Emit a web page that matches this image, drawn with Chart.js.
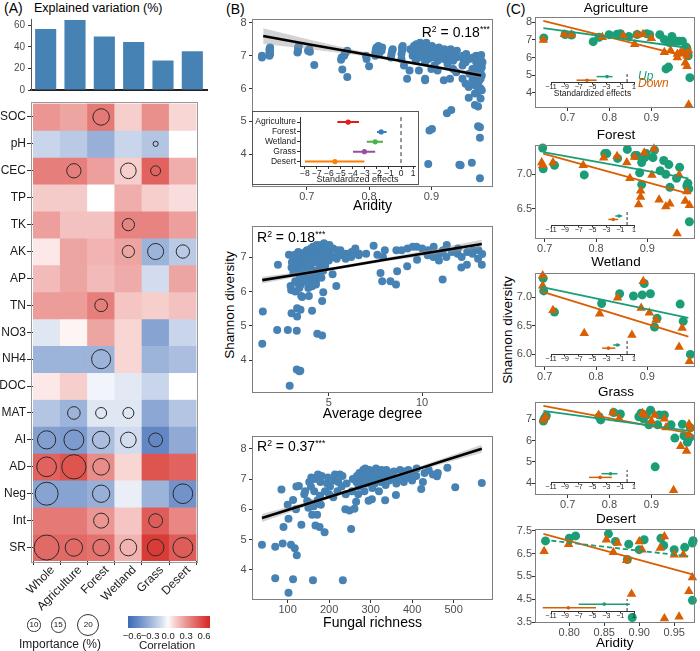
<!DOCTYPE html>
<html><head><meta charset="utf-8">
<script src="https://cdn.jsdelivr.net/npm/chart.js@4.4.1/dist/chart.umd.min.js"></script>
<style>
html,body{margin:0;padding:0;background:#fff;}
body{width:700px;height:651px;position:relative;overflow:hidden;font-family:'Liberation Sans',Arial,Helvetica,sans-serif;}
canvas{position:absolute;}
.t{position:absolute;white-space:nowrap;line-height:1.2;}
.sup{font-size:0.62em;position:relative;top:-0.55em;}
</style></head><body>
<script>
// ================= DATA =================
const sites = ['Whole','Agriculture','Forest','Wetland','Grass','Desert'];
const explained = [56.6, 65, 49.7, 44.6, 27.4, 36];
const explainedTicks = [0, 20, 40, 60];
const factors = ['SOC','pH','CEC','TP','TK','AK','AP','TN','NO3','NH4','DOC','MAT','AI','AD','Neg','Int','SR'];
const correlation = [
  [0.30, 0.25, 0.40, 0.12, 0.32, 0.10],
  [-0.15, -0.20, -0.32, -0.15, -0.22, 0.0],
  [0.38, 0.38, 0.27, 0.12, 0.48, 0.22],
  [0.13, 0.13, 0.0, 0.22, 0.12, 0.08],
  [0.27, 0.16, 0.16, 0.36, 0.36, 0.27],
  [0.05, 0.25, 0.20, 0.25, -0.30, -0.20],
  [0.18, 0.25, 0.18, 0.23, -0.12, 0.25],
  [0.28, 0.28, 0.38, 0.15, 0.12, 0.16],
  [-0.08, 0.02, 0.25, 0.10, -0.38, -0.15],
  [-0.30, -0.30, -0.30, 0.10, -0.30, -0.25],
  [0.05, 0.12, -0.03, -0.07, -0.15, 0.0],
  [-0.22, -0.30, -0.08, -0.08, -0.36, -0.22],
  [-0.40, -0.42, -0.25, -0.12, -0.52, -0.35],
  [0.48, 0.53, 0.33, 0.10, 0.53, 0.48],
  [-0.38, -0.38, -0.32, -0.05, -0.30, -0.46],
  [0.40, 0.40, 0.30, 0.15, 0.50, 0.35],
  [0.45, 0.45, 0.42, 0.20, 0.62, 0.50]
];
const importance = [
  [0, 0, 14, 0, 0, 0],
  [0, 0, 0, 0, 1, 0],
  [0, 11.5, 0, 13, 6.5, 0],
  [0, 0, 0, 0, 0, 0],
  [0, 0, 0, 9.2, 0, 0],
  [0, 0, 0, 9.2, 13.5, 10.4],
  [0, 0, 0, 0, 0, 0],
  [0, 0, 9.6, 0, 0, 0],
  [0, 0, 0, 0, 0, 0],
  [0, 0, 17, 0, 0, 0],
  [0, 0, 0, 0, 0, 0],
  [0, 9.6, 7.7, 7.7, 0, 0],
  [16, 18, 15, 13, 11, 0],
  [17.7, 23, 14.2, 0, 0, 0],
  [21.5, 0, 15, 0, 0, 17.7],
  [0, 0, 12.3, 0, 11, 0],
  [23.8, 15, 14.2, 14.2, 14.2, 18]
];
const importanceLegend = [10, 15, 20];
const corrTicks = [-0.6, -0.3, 0, 0.3, 0.6];

// Panel B
const aridityShannon = [
 [0.628,6.95],[0.628,7.0],
 [0.640,7.0],[0.640,7.1],[0.640,7.2],[0.641,7.05],[0.641,7.15],[0.641,7.25],
 [0.685,7.1],[0.686,7.15],[0.686,7.25],[0.687,7.3],
 [0.702,7.15],[0.704,7.2],[0.705,7.12],[0.712,6.72],
 [0.755,6.88],[0.756,6.95],[0.760,7.0],[0.761,7.05],[0.762,7.1],[0.765,7.15],[0.757,6.58],[0.765,6.35],
 [0.795,7.0],[0.796,6.9],[0.800,6.68],
 [0.810,7.0],[0.810,7.1],[0.811,7.2],[0.812,7.25],[0.815,7.3],[0.816,7.05],[0.820,7.15],[0.821,7.25],
 [0.835,6.95],[0.836,7.05],[0.837,7.15],[0.838,7.2],
 [0.852,6.9],[0.852,7.05],[0.853,7.15],[0.853,7.25],[0.854,7.3],[0.856,6.7],[0.861,6.3],[0.865,6.55],[0.866,7.2],
 [0.870,7.0],[0.870,7.1],[0.871,7.2],[0.872,7.3],[0.875,6.85],[0.875,7.05],[0.876,7.25],[0.876,7.35],
 [0.880,6.55],[0.880,6.95],[0.881,7.15],[0.881,7.3],[0.882,7.4],[0.885,7.0],[0.885,7.2],[0.886,7.35],
 [0.890,6.25],[0.890,6.3],[0.890,6.8],[0.891,7.1],[0.891,7.3],[0.892,7.4],[0.895,6.9],[0.895,7.05],[0.896,7.25],
 [0.900,6.6],[0.900,6.95],[0.901,7.15],[0.901,7.3],[0.905,6.7],[0.905,7.0],[0.906,7.2],
 [0.895,3.7],[0.897,4.72],[0.901,4.77],
 [0.910,6.55],[0.910,6.85],[0.911,7.05],[0.912,7.25],[0.920,6.25],[0.920,6.9],[0.921,7.1],[0.921,7.2],
 [0.925,5.25],[0.926,6.75],[0.927,7.0],[0.930,6.3],[0.932,5.35],[0.930,6.95],[0.931,7.15],[0.931,7.2],
 [0.935,6.6],[0.935,6.85],[0.936,7.05],[0.940,6.5],[0.940,6.95],[0.941,7.15],
 [0.945,3.68],[0.947,3.66],[0.950,6.3],[0.950,6.7],[0.951,6.9],[0.951,7.0],[0.955,6.15],[0.955,6.8],[0.956,7.05],
 [0.960,5.72],[0.960,6.05],[0.961,6.45],[0.961,6.9],[0.965,3.74],[0.966,6.25],[0.966,6.6],[0.967,6.95],
 [0.970,5.5],[0.970,5.85],[0.970,6.1],[0.971,6.4],[0.971,6.6],[0.972,6.8],[0.972,7.0],
 [0.975,4.85],[0.975,5.45],[0.975,5.9],[0.976,6.2],[0.976,6.5],[0.976,6.75],[0.977,6.9],
 [0.978,3.27],[0.978,4.5],[0.978,4.82],[0.979,5.7],[0.979,6.0],[0.979,6.3],[0.979,6.55],[0.980,6.85],[0.980,7.02],
 [0.981,5.95],[0.981,6.4],[0.981,6.65],[0.982,6.8]
];
const aridityFitX = [0.63, 0.70, 0.78, 0.86, 0.92, 0.98];
const aridityFitY = [7.6, 7.36, 7.09, 6.81, 6.61, 6.4];
const aridityBandLo = [7.36, 7.21, 7.02, 6.77, 6.56, 6.32];
const aridityBandHi = [7.84, 7.51, 7.16, 6.85, 6.66, 6.48];

const degreeShannon = [
 [1.43,4.48],[1.46,5.42],[2.23,4.88],[2.27,6.78],[2.8,4.88],[2.86,7.07],[2.9,3.26],[2.95,6.16],[2.98,6.04],[3.0,5.37],[3.0,6.7],[3.02,6.85],
 [3.1,6.55],[3.1,6.95],[3.12,7.05],[3.2,6.0],[3.2,6.3],[3.21,6.7],[3.22,6.9],[3.2,7.07],[3.28,3.73],[3.28,4.86],[3.3,5.27],[3.3,5.51],[3.32,6.25],[3.33,6.6],[3.34,6.8],[3.35,7.0],[3.36,7.15],
 [3.42,3.68],[3.47,3.7],[3.48,5.47],[3.42,6.1],[3.44,6.4],[3.45,6.75],[3.46,6.9],[3.52,5.87],[3.5,6.2],[3.53,6.55],[3.54,6.85],[3.55,7.1],[3.57,5.84],[3.58,6.65],[3.6,7.0],
 [3.7,6.3],[3.7,6.5],[3.72,6.8],[3.73,7.0],[3.74,7.15],[3.8,6.4],[3.82,6.9],[3.83,7.2],[3.93,5.87],[3.9,6.1],[3.92,6.6],[3.94,7.05],[4.0,6.25],[4.02,6.75],[4.03,7.1],[4.04,7.25],
 [4.1,5.44],[4.1,6.15],[4.12,6.45],[4.13,6.95],[4.14,7.2],[4.15,7.3],[4.2,6.6],[4.22,6.85],[4.23,7.1],[4.24,7.3],[4.3,6.3],[4.31,6.2],[4.32,7.0],[4.33,7.25],[4.34,7.35],[4.38,4.77],[4.4,6.5],[4.42,6.9],[4.43,7.15],[4.44,7.3],
 [4.5,6.7],[4.52,7.0],[4.53,7.2],[4.54,7.35],[4.64,4.72],[4.64,5.72],[4.6,6.4],[4.62,6.95],[4.63,7.1],[4.6,7.3],[4.7,5.98],[4.7,6.6],[4.72,6.85],[4.73,7.2],[4.74,7.4],[4.8,6.75],[4.82,7.05],[4.83,7.3],
 [5.0,6.9],[5.02,7.15],[5.03,7.35],[5.2,6.5],[5.22,7.0],[5.23,7.25],[5.4,6.16],[5.42,6.95],[5.43,7.2],[5.6,7.05],[5.62,7.2],[5.9,6.95],[5.92,7.1],[6.2,7.0],[6.22,7.15],[6.4,7.2],[6.42,7.25],[6.6,7.05],[6.62,7.1],
 [7.0,7.1],[7.4,7.33],[7.6,7.07],[7.77,6.54],[7.86,6.3],[7.9,7.0],[8.0,7.2],[8.3,6.3],[8.6,6.2],[8.66,6.59],[8.62,7.2],[8.9,7.2],[9.2,6.73],[9.22,7.25],[9.5,7.3],[9.73,6.92],[9.7,7.3],[10.0,7.25],
 [10.3,7.05],[10.32,7.2],[10.6,7.0],[10.62,7.3],[10.9,6.9],[10.92,7.1],[11.1,6.35],[11.12,7.2],[11.3,7.0],[11.32,7.35],[11.6,7.15],[11.9,7.1],[11.92,7.25],[12.1,6.7],[12.12,7.0],[12.4,6.78],[12.42,7.15],
 [12.7,7.1],[12.72,7.2],[13.0,6.95],[13.02,7.2],[13.2,6.78],[13.22,7.09]
];
const degreeFitX = [1.43, 3.5, 5.5, 8, 10.5, 13.2];
const degreeFitY = [6.33, 6.51, 6.69, 6.92, 7.14, 7.38];
const degreeBandLo = [6.23, 6.45, 6.65, 6.87, 7.06, 7.26];
const degreeBandHi = [6.43, 6.57, 6.73, 6.97, 7.22, 7.5];

const richnessShannon = [
 [38,4.83],[70,4.76],[70,3.72],[88,4.87],[85,6.65],[90,5.41],[100,6.15],[102,5.69],[102,3.24],[108,4.83],[113,3.69],[113,6.31],[117,4.71],[121,6.75],[120,6.0],[122,4.48],[127,6.77],[133,5.49],
 [140,6.5],[142,6.6],[147,6.27],[150,6.05],[152,6.9],[155,6.2],[156,6.75],[157,7.05],[159,5.82],[161,3.65],[163,6.1],[164,6.6],[165,7.0],[167,5.46],[171,5.82],[172,6.3],[173,7.15],[177,5.41],[178,6.45],[179,6.9],[180,6.15],[182,7.1],
 [189,5.24],[190,6.6],[195,6.85],[197,7.05],[200,6.5],[202,6.75],[210,6.4],[212,6.95],[214,7.15],[220,6.6],[222,6.9],[230,6.75],[232,7.1],[226,7.15],[233,3.65],[239,6.0],[240,6.5],[242,6.85],[249,5.96],[253,5.35],[255,6.6],[257,7.0],
 [261,6.02],[265,6.25],[266,6.9],[267,7.1],[270,6.5],[271,6.75],[272,7.0],[273,7.2],[280,6.9],[281,7.05],[282,7.3],[285,6.6],[286,7.2],[287,7.35],[290,6.85],[291,7.1],[292,7.25],[295,6.28],[296,7.0],[297,7.3],
 [303,6.33],[304,6.7],[305,7.15],[310,6.85],[311,7.05],[312,7.25],[313,7.35],[320,6.6],[321,7.0],[322,7.2],[325,6.9],[326,7.3],[335,6.3],[336,6.8],[337,7.1],[338,7.3],[345,6.95],[346,7.2],[355,7.05],[356,7.25],
 [361,6.47],[362,6.85],[370,7.0],[371,7.3],[380,6.9],[381,7.1],[382,7.25],[390,7.05],[391,7.3],[400,6.95],[401,7.15],[410,7.1],[411,7.35],[422,6.67],[426,6.9],[430,7.2],[440,7.3],[450,7.15],[460,7.09],[462,7.2],
 [485,7.37],[504,6.73],[568,6.87]
];
const richnessFitX = [38, 150, 280, 400, 480, 568];
const richnessFitY = [5.71, 6.19, 6.75, 7.27, 7.62, 8.0];
const richnessBandLo = [5.58, 6.12, 6.71, 7.21, 7.53, 7.87];
const richnessBandHi = [5.84, 6.26, 6.79, 7.33, 7.71, 8.13];

const effectGroups = ['Agriculture','Forest','Wetland','Grass','Desert'];
const aridityEffect = [-4.4, -1.65, -2.15, -3.05, -5.5];
const aridityEffectLo = [-5.3, -2.0, -2.85, -4.0, -8.0];
const aridityEffectHi = [-3.5, -1.2, -1.5, -2.15, -3.05];

// Panel C
const agriUp = [[0.643,7.11],[0.694,7.31],[0.709,7.28],[0.761,6.9],[0.775,7.15],[0.799,7.3],[0.818,7.33],[0.826,7.35],[0.846,7.2],[0.866,7.31],[0.889,7.35],[0.896,7.3],[0.92,7.3],[0.931,7.02],[0.943,6.85],[0.949,7.2],[0.959,6.93],[0.966,6.93],[0.974,6.93],[0.983,6.6],[0.985,6.5],[0.988,6.1],[0.935,5.35],[0.941,5.45],[0.992,4.85]];
const agriDown = [[0.642,7.0],[0.692,7.33],[0.709,7.3],[0.783,7.15],[0.833,7.24],[0.86,6.75],[0.866,7.3],[0.88,7.33],[0.9,7.1],[0.931,6.3],[0.946,6.4],[0.962,6.2],[0.97,6.3],[0.977,6.3],[0.962,6.0],[0.985,6.1],[0.985,5.5],[0.981,5.7],[0.989,3.3],[0.989,6.4]];
const agriUpFit = [[0.642,7.67],[0.99,6.54]];
const agriDownFit = [[0.642,8.09],[0.99,6.02]];
const forestUp = [[0.696,7.38],[0.697,7.08],[0.719,7.13],[0.777,6.99],[0.817,7.3],[0.821,7.3],[0.842,7.23],[0.861,7.36],[0.876,7.27],[0.88,7.27],[0.889,7.17],[0.895,7.24],[0.898,7.3],[0.911,7.24],[0.914,7.35],[0.885,7.02],[0.889,6.85],[0.932,7.2],[0.942,7.14],[0.925,7.05],[0.936,7.0],[0.944,6.81],[0.957,6.94],[0.963,7.1],[0.977,6.83],[0.979,6.87],[0.981,6.79],[0.982,6.31]];
const forestDown = [[0.694,7.17],[0.696,7.13],[0.716,7.17],[0.775,7.13],[0.815,7.24],[0.841,7.26],[0.86,7.17],[0.875,7.25],[0.894,7.31],[0.913,7.37],[0.866,6.94],[0.887,6.76],[0.887,6.67],[0.883,6.56],[0.909,6.99],[0.923,6.63],[0.936,6.53],[0.944,6.57],[0.962,6.99],[0.974,6.61],[0.982,6.55],[0.977,6.75],[0.958,6.14]];
const forestUpFit = [[0.697,7.32],[0.98,6.94]];
const forestDownFit = [[0.697,7.3],[0.98,6.72]];
const wetlandUp = [[0.697,7.33],[0.698,7.11],[0.719,6.74],[0.811,6.89],[0.846,7.06],[0.873,7.02],[0.89,7.04],[0.894,7.24],[0.906,7.06],[0.919,6.63],[0.914,6.48],[0.964,6.88],[0.97,6.58],[0.984,6.0]];
const wetlandDown = [[0.696,7.38],[0.696,7.2],[0.716,6.77],[0.777,6.37],[0.807,6.71],[0.842,6.99],[0.87,6.34],[0.888,6.81],[0.892,7.28],[0.904,6.73],[0.917,6.6],[0.962,6.13],[0.968,6.46],[0.982,5.88]];
const wetlandUpFit = [[0.693,7.18],[0.98,6.64]];
const wetlandDownFit = [[0.693,7.1],[0.98,6.31]];
const grassUp = [[0.649,7.17],[0.645,7.05],[0.642,6.92],[0.775,7.12],[0.779,6.97],[0.81,7.32],[0.826,7.25],[0.87,7.12],[0.875,7.28],[0.881,7.02],[0.888,7.2],[0.898,7.43],[0.894,6.74],[0.919,7.2],[0.931,7.2],[0.915,6.74],[0.947,6.74],[0.956,6.12],[0.974,6.77],[0.978,6.23],[0.986,5.92],[0.992,6.15],[0.993,6.6],[0.988,6.05],[0.909,4.77]];
const grassDown = [[0.642,6.97],[0.647,7.12],[0.774,7.2],[0.808,7.32],[0.823,7.02],[0.879,7.28],[0.884,7.2],[0.9,6.92],[0.908,7.2],[0.931,7.02],[0.935,6.62],[0.97,5.74],[0.984,5.51],[0.99,6.77],[0.993,6.58],[0.99,6.28],[0.953,3.67]];
const grassUpFit = [[0.642,7.4],[0.99,6.46]];
const grassDownFit = [[0.642,7.63],[0.99,6.35]];
const desertUp = [[0.766,7.05],[0.8,7.17],[0.809,7.27],[0.856,7.36],[0.866,7.03],[0.885,6.91],[0.883,6.24],[0.9,6.67],[0.907,7.1],[0.931,7.17],[0.935,6.85],[0.95,6.67],[0.965,6.77],[0.976,6.96],[0.977,7.06],[0.976,4.45],[0.89,3.7]];
const desertDown = [[0.764,6.6],[0.799,6.91],[0.853,7.1],[0.863,6.55],[0.869,6.96],[0.882,6.2],[0.9,7.03],[0.904,6.67],[0.93,6.74],[0.936,7.24],[0.95,6.45],[0.963,6.45],[0.889,4.73],[0.936,3.66],[0.957,3.73],[0.971,4.85],[0.976,5.45]];
const desertUpFit = [[0.763,7.1],[0.97,6.38]];
const desertDownFit = [[0.763,7.36],[0.976,5.59]];

const upEffect = [-2.9, -1.15, -1.4, -2.4, -3.3];
const upLo = [-4.4, -1.7, -2.0, -3.7, -7.0];
const upHi = [-2.1, -0.7, -1.0, -1.4, 0.4];
const downEffect = [-5.8, -2.0, -2.7, -3.9, -8.5];
const downLo = [-7.3, -2.7, -3.6, -5.5, -12.2];
const downHi = [-4.4, -1.3, -1.7, -2.2, -4.5];

const aridityTicksB = [0.7, 0.8, 0.9];
const shannonTicksB = [4, 5, 6, 7, 8];
const degreeTicks = [5, 10];
const shannonTicksDeg = [4, 5, 6, 7];
const richnessTicks = [100, 200, 300, 400, 500];
const effectTicksB = [-8, -7, -6, -5, -4, -3, -2, -1, 0, 1];
const effectTicksC = [-11, -9, -7, -5, -3, -1, 1];
const aridityTicksC = [0.7, 0.8, 0.9];
const aridityTicksDesert = [0.80, 0.85, 0.90, 0.95];
const agriYTicks = [4, 5, 6, 7, 8];
const forestYTicks = [6.5, 7.0];
const wetlandYTicks = [6.0, 6.5, 7.0];
const grassYTicks = [4, 5, 6, 7];
const desertYTicks = [3.5, 4.5, 5.5, 6.5, 7.5];

// ================= STYLE / HELPERS =================
const GREEN = '#1B9E77', ORANGE = '#D95F02', STEEL = '#4682B4';
const groupColors = ['#E41A1C', '#377EB8', '#4DAF4A', '#984EA3', '#FF7F00'];
const FONT = "'Liberation Sans', Arial, Helvetica, sans-serif";
Chart.defaults.animation = false;
Chart.defaults.responsive = false;
Chart.defaults.maintainAspectRatio = false;
Chart.defaults.devicePixelRatio = 1;
Chart.defaults.font.family = FONT;
Chart.defaults.font.size = 11;
Chart.defaults.color = '#4d4d4d';
Chart.defaults.events = [];
Chart.defaults.plugins.legend.display = false;
Chart.defaults.plugins.tooltip.enabled = false;

function corrColor(v) {
  const lo = [59, 104, 181], hi = [214, 44, 38];
  const t = Math.max(-1, Math.min(1, v / 0.68));
  const end = t < 0 ? lo : hi;
  const a = Math.pow(Math.abs(t), 0.85);
  return 'rgb(' + end.map(e => Math.round(255 + (e - 255) * a)).join(',') + ')';
}
function impDiameter(imp) { return 0.87 * imp + 4.3; }
const minus = v => (v < 0 ? '\u2212' : '') + Math.abs(v);

Chart.register({
  id: 'frame',
  defaults: { show: false, color: '#7f7f7f', pad: 0 },
  afterDraw(chart, args, o) {
    if (!o.show) return;
    const a = chart.chartArea, ctx = chart.ctx, p = o.pad || 0;
    ctx.save(); ctx.strokeStyle = o.color; ctx.lineWidth = 1;
    const l = Math.round(a.left - p) + 0.5, t = Math.round(a.top - p) + 0.5;
    const r = Math.round(a.right + p) - 0.5, b = Math.round(a.bottom + p) - 0.5;
    ctx.strokeRect(l, t, r - l, b - t);
    ctx.restore();
  }
});
Chart.register({
  id: 'insetBg',
  defaults: { show: false },
  beforeDraw(chart, args, o) {
    if (!o.show) return;
    const ctx = chart.ctx;
    ctx.save(); ctx.fillStyle = '#fff'; ctx.fillRect(0, 0, chart.width, chart.height); ctx.restore();
  },
  afterDraw(chart, args, o) {
    if (!o.show) return;
    const ctx = chart.ctx;
    ctx.save(); ctx.strokeStyle = '#555'; ctx.lineWidth = 1;
    ctx.strokeRect(0.5, 0.5, chart.width - 1, chart.height - 1); ctx.restore();
  }
});
Chart.register({
  id: 'gradientBar',
  defaults: { show: false },
  beforeDatasetsDraw(chart, args, o) {
    if (!o.show) return;
    const { ctx, chartArea: a } = chart; const x = chart.scales.x;
    const x0 = x.getPixelForValue(x.min), x1 = x.getPixelForValue(x.max);
    const g = ctx.createLinearGradient(x0, 0, x1, 0);
    for (let k = 0; k <= 40; k++) { const v = x.min + (x.max - x.min) * k / 40; g.addColorStop(k / 40, corrColor(v)); }
    ctx.save(); ctx.fillStyle = g; ctx.fillRect(a.left, a.top, a.right - a.left, a.bottom - a.top); ctx.restore();
  }
});

function mk(id, x, y, w, h) {
  const c = document.createElement('canvas');
  c.id = id; c.width = w; c.height = h;
  c.style.left = x + 'px'; c.style.top = y + 'px'; c.style.width = w + 'px'; c.style.height = h + 'px';
  document.body.appendChild(c); return c;
}
function txt(html, x, y, o = {}) {
  const d = document.createElement('div'); d.className = 't'; d.innerHTML = html;
  d.style.left = x + 'px'; d.style.top = y + 'px';
  d.style.fontSize = (o.size || 12) + 'px'; d.style.color = o.color || '#000';
  if (o.italic) d.style.fontStyle = 'italic';
  if (o.bold) d.style.fontWeight = 'bold';
  let tr = o.anchor === 'c' ? 'translate(-50%,-50%)' : o.anchor === 'r' ? 'translate(-100%,-50%)' : 'translate(0,-50%)';
  if (o.rot) tr += ' rotate(' + o.rot + 'deg)';
  d.style.transform = tr;
  document.body.appendChild(d); return d;
}
function linAxis(o) {
  const horiz = o.horiz;
  const s = {
    type: 'linear', min: o.min, max: o.max, reverse: !!o.reverse, display: o.display !== false,
    afterBuildTicks: sc => { sc.ticks = o.ticks.map(v => ({ value: v })); },
    ticks: { autoSkip: false, maxRotation: 0, minRotation: 0, font: { size: o.font || 11 }, color: o.color || '#4d4d4d', padding: o.pad ?? 0, callback: o.fmt || (v => String(v)) },
    grid: { display: o.noTicks ? false : true, drawOnChartArea: false, drawTicks: true, tickLength: o.tl ?? 3, color: o.tickColor || '#333' },
    border: { display: !!o.border, color: o.borderColor || '#333', width: 1 },
    title: o.title ? { display: true, text: o.title, font: { size: o.titleSize || 14 }, color: o.titleColor || '#000', padding: { top: 0, bottom: o.titlePad || 0 } } : { display: false }
  };
  if (o.size != null) s.afterFit = horiz ? (sc => { sc.height = o.size; }) : (sc => { sc.width = o.size; });
  return s;
}

// ================= PANEL A =================
txt('(A)', 4, 8, { size: 14 });
txt('Explained variation (%)', 34, 8, { size: 12.5 });

(function barChart() {
  const L = 31, R = 207, T = 14, B = 91, yW = 31, padTop = 4, padRight = 3, xH = 8;
  const c = mk('bars', L - yW, T - padTop, R - L + yW + padRight, B - T + padTop + xH);
  new Chart(c, {
    type: 'bar',
    data: { labels: sites, datasets: [{ data: explained, backgroundColor: STEEL, barPercentage: 0.72, categoryPercentage: 1, borderWidth: 0 }] },
    options: {
      layout: { padding: { top: padTop, right: padRight, left: 0, bottom: 0 } },
      scales: {
        x: { type: 'category', ticks: { display: false }, grid: { display: false }, border: { display: true, color: '#222', width: 2 }, afterFit: s => { s.height = xH; } },
        y: linAxis({ min: 0, max: 66, ticks: explainedTicks, font: 10, pad: 3, tl: 3, border: true, borderColor: '#555', size: yW })
      }
    }
  });
})();

(function heatmap() {
  const L = 33, R = 205, T = 97.5, B = 561, yW = 33, padTop = 7.5, padRight = 5, xH = 59;
  const c = mk('heat', L - yW, T - padTop, R - L + yW + padRight, B - T + padTop + xH);
  const ds = factors.map((f, i) => ({
    type: 'bar', label: f, data: sites.map(() => [i - 0.5, i + 0.5]),
    backgroundColor: correlation[i].map(corrColor), grouped: false,
    barPercentage: 1, categoryPercentage: 1, borderWidth: 0, order: 1
  }));
  const bubbles = [];
  importance.forEach((row, i) => row.forEach((v, j) => { if (v > 0) bubbles.push({ x: sites[j], y: i, r: impDiameter(v) / 2 }); }));
  ds.push({ type: 'bubble', data: bubbles, backgroundColor: 'rgba(0,0,0,0)', borderColor: '#2a2a2a', borderWidth: 1, order: 0, clip: false });
  const yAx = linAxis({ min: -0.5, max: 16.5, reverse: true, ticks: factors.map((f, i) => i), fmt: v => factors[v], font: 12, color: '#1a1a1a', pad: 1, tl: 6, size: yW });
  new Chart(c, {
    type: 'bar',
    data: { labels: sites, datasets: ds },
    options: {
      layout: { padding: { top: padTop, right: padRight, left: 0, bottom: 0 } },
      scales: {
        x: { type: 'category', offset: true, ticks: { autoSkip: false, maxRotation: 45, minRotation: 45, font: { size: 12 }, color: '#1a1a1a', padding: -2, labelOffset: 6 }, grid: { display: true, drawOnChartArea: false, tickLength: 4, color: '#333' }, border: { display: false }, afterFit: s => { s.height = xH; } },
        y: yAx
      },
      plugins: { frame: { show: true, color: '#9a9a9a', pad: 2 } }
    }
  });
})();

// importance legend
(function () {
  const centers = [34, 58.3, 88.3], diam = [13.3, 15.5, 22];
  importanceLegend.forEach((v, k) => {
    const d = diam[k], e = document.createElement('div');
    e.style.cssText = 'position:absolute;box-sizing:border-box;border:1px solid #333;border-radius:50%;text-align:center;font-size:8px;color:#111;';
    e.style.left = (centers[k] - d / 2) + 'px'; e.style.top = (625 - d / 2) + 'px';
    e.style.width = d + 'px'; e.style.height = d + 'px'; e.style.lineHeight = (d - 2) + 'px';
    e.textContent = v; document.body.appendChild(e);
  });
  txt('Importance (%)', 60, 644, { size: 12, anchor: 'c', color: '#1a1a1a' });
})();

// colorbar
(function () {
  const c = mk('cbar', 113, 608, 110, 40);
  new Chart(c, {
    type: 'scatter', data: { datasets: [{ data: [], pointRadius: 0 }] },
    options: {
      layout: { padding: { top: 8, right: 13, left: 15, bottom: 0 } },
      scales: {
        x: linAxis({ horiz: true, min: -0.67, max: 0.7, ticks: corrTicks, fmt: v => (v < 0 ? '\u2212' : '') + Math.abs(v).toFixed(1), font: 9.5, color: '#1a1a1a', pad: 3, tl: 0, noTicks: true, size: 20 }),
        y: { display: false, min: 0, max: 1 }
      },
      plugins: { gradientBar: { show: true } }
    }
  });
  txt('Correlation', 167, 646, { size: 11.5, anchor: 'c', color: '#1a1a1a' });
})();

// ================= PANEL B =================
txt('(B)', 226, 9, { size: 14 });
txt('(C)', 506, 9, { size: 14 });
txt('Shannon diversity', 230, 305, { size: 13.5, anchor: 'c', rot: -90 });
txt('Shannon diversity', 508, 330, { size: 13.5, anchor: 'c', rot: -90 });

function bChart(id, box, o) {
  const yW = 52, padRight = 7;
  const c = mk(id, box.L - yW, box.T - o.padTop, box.R - box.L + yW + padRight, box.B - box.T + o.padTop + o.xH);
  const fit = o.fitX.map((x, i) => [x, o.fitY[i]]);
  const hi = o.fitX.map((x, i) => [x, o.bandHi[i]]);
  const lo = o.fitX.map((x, i) => [x, o.bandLo[i]]);
  new Chart(c, {
    type: 'line',
    data: { datasets: [
      { data: fit, borderColor: '#000', borderWidth: 2.6, pointRadius: 0, fill: false, order: 0 },
      { data: hi, borderColor: 'rgba(0,0,0,0)', borderWidth: 0, pointRadius: 0, fill: '+1', backgroundColor: 'rgba(150,150,150,0.42)', order: 1 },
      { data: lo, borderColor: 'rgba(0,0,0,0)', borderWidth: 0, pointRadius: 0, fill: false, order: 1 },
      { data: o.points, showLine: false, pointRadius: 4, pointBackgroundColor: STEEL, pointBorderWidth: 0, order: 2, clip: 5 }
    ] },
    options: {
      layout: { padding: { top: o.padTop, right: padRight, left: 0, bottom: 0 } },
      scales: {
        x: linAxis({ horiz: true, min: o.xmin, max: o.xmax, ticks: o.xticks, fmt: o.xfmt, pad: 0, tl: 3, title: o.xTitle, titleSize: 14, size: o.xH }),
        y: linAxis({ min: o.ymin, max: o.ymax, ticks: o.yticks, pad: 2.5, tl: 3, size: yW })
      },
      plugins: { frame: { show: true, color: '#7f7f7f' } }
    }
  });
}
bChart('b1', { L: 252, R: 493, T: 19, B: 187 }, { padTop: 14, xH: 28, points: aridityShannon, fitX: aridityFitX, fitY: aridityFitY, bandLo: aridityBandLo, bandHi: aridityBandHi, xmin: 0.612, xmax: 0.999, xticks: aridityTicksB, xfmt: v => v.toFixed(1), ymin: 3.0, ymax: 8.12, yticks: shannonTicksB, xTitle: 'Aridity' });
bChart('b2', { L: 252, R: 493, T: 225, B: 393 }, { padTop: 8, xH: 30, points: degreeShannon, fitX: degreeFitX, fitY: degreeFitY, bandLo: degreeBandLo, bandHi: degreeBandHi, xmin: 0.88, xmax: 13.8, xticks: degreeTicks, ymin: 3.05, ymax: 7.9, yticks: shannonTicksDeg, xTitle: 'Average degree' });
bChart('b3', { L: 252, R: 493, T: 435, B: 600 }, { padTop: 8, xH: 32, points: richnessShannon, fitX: richnessFitX, fitY: richnessFitY, bandLo: richnessBandLo, bandHi: richnessBandHi, xmin: 14, xmax: 595, xticks: richnessTicks, ymin: 3.0, ymax: 8.42, yticks: shannonTicksB, xTitle: 'Fungal richness' });

const R2 = v => 'R<span class="sup">2</span> = ' + v + '<span class="sup">***</span>';
txt(R2('0.18'), 490, 32, { size: 14, anchor: 'r' });
txt(R2('0.18'), 257, 237, { size: 14 });
txt(R2('0.37'), 257, 446, { size: 14 });

// inset of B1
(function () {
  const c = mk('insetB', 252, 111, 167, 74);
  const ds = [{ data: [[0, -0.5], [0, 4.5]], showLine: true, borderColor: '#333', borderWidth: 1, borderDash: [4, 3], pointRadius: 0, order: 2 }];
  effectGroups.forEach((g, i) => {
    ds.push({ data: [[aridityEffectLo[i], i], [aridityEffectHi[i], i]], showLine: true, borderColor: groupColors[i], borderWidth: 2, pointRadius: 0, order: 1 });
  });
  ds.push({ data: effectGroups.map((g, i) => [aridityEffect[i], i]), showLine: false, pointRadius: 2.6, pointBackgroundColor: groupColors, pointBorderWidth: 0, order: 0 });
  new Chart(c, {
    type: 'scatter', data: { datasets: ds },
    options: {
      layout: { padding: { top: 0.5, right: 3, left: 0, bottom: 0 } },
      scales: {
        x: linAxis({ horiz: true, min: -8.41, max: 1.165, ticks: effectTicksB, fmt: minus, font: 8.5, color: '#1a1a1a', pad: 0, tl: 2.5, border: true, title: 'Standardized effects', titleSize: 9, titleColor: '#1a1a1a', size: 18.5 }),
        y: linAxis({ min: -0.5, max: 4.5, reverse: true, ticks: [0, 1, 2, 3, 4], fmt: v => effectGroups[v], font: 8.5, color: '#1a1a1a', pad: 1, tl: 3, border: true, size: 48 })
      },
      plugins: { insetBg: { show: true } }
    }
  });
})();

// ================= PANEL C =================
const cPanels = [
  { name: 'Agriculture', up: agriUp, down: agriDown, upFit: agriUpFit, downFit: agriDownFit, T: 15, B: 108, xH: 20, xmin: 0.622, xmax: 1.003, xticks: aridityTicksC, xfmt: v => v.toFixed(1), ymin: 3.12, ymax: 8.33, yticks: agriYTicks, yfmt: v => String(v), titleY: 7.5,
    inset: { T: 72, B: 82, up: 6, down: 2, xH: 17, title: true } },
  { name: 'Forest', up: forestUp, down: forestDown, upFit: forestUpFit, downFit: forestDownFit, T: 143, B: 239, xH: 20, xmin: 0.681, xmax: 0.992, xticks: aridityTicksC, xfmt: v => v.toFixed(1), ymin: 6.06, ymax: 7.43, yticks: forestYTicks, yfmt: v => v.toFixed(1), titleY: 135,
    inset: { T: 211, B: 225, up: 9.7, down: 6, xH: 12 } },
  { name: 'Wetland', up: wetlandUp, down: wetlandDown, upFit: wetlandUpFit, downFit: wetlandDownFit, T: 271, B: 367, xH: 20, xmin: 0.681, xmax: 0.992, xticks: aridityTicksC, xfmt: v => v.toFixed(1), ymin: 5.78, ymax: 7.43, yticks: wetlandYTicks, yfmt: v => v.toFixed(1), titleY: 262,
    inset: { T: 340, B: 354, up: 9.7, down: 6.3, xH: 12 } },
  { name: 'Grass', up: grassUp, down: grassDown, upFit: grassUpFit, downFit: grassDownFit, T: 400, B: 495, xH: 20, xmin: 0.622, xmax: 1.003, xticks: aridityTicksC, xfmt: v => v.toFixed(1), ymin: 3.45, ymax: 7.83, yticks: grassYTicks, yfmt: v => String(v), titleY: 392,
    inset: { T: 469, B: 482, up: 9, down: 5, xH: 12 } },
  { name: 'Desert', up: desertUp, down: desertDown, upFit: desertUpFit, downFit: desertDownFit, upDash: true, T: 527, B: 623, xH: 28, xTitle: 'Aridity', xmin: 0.751, xmax: 0.979, xticks: aridityTicksDesert, xfmt: v => v.toFixed(2), ymin: 3.46, ymax: 7.59, yticks: desertYTicks, yfmt: v => v.toFixed(1), titleY: 519,
    inset: { T: 598, B: 611, up: 7.4, down: 3.4, xH: 12 } }
];

cPanels.forEach((p, idx) => {
  const L = 535, R = 697, yW = 20, padTop = 5, padRight = 3;
  const c = mk('c' + idx, L - yW, p.T - padTop, R - L + yW + padRight, p.B - p.T + padTop + p.xH);
  new Chart(c, {
    type: 'scatter',
    data: { datasets: [
      { data: p.upFit, showLine: true, borderColor: GREEN, borderWidth: 1.8, borderDash: p.upDash ? [5, 3] : [], pointRadius: 0, order: 0 },
      { data: p.downFit, showLine: true, borderColor: ORANGE, borderWidth: 1.8, pointRadius: 0, order: 0 },
      { data: p.down, pointStyle: 'triangle', pointRadius: 5.5, pointBackgroundColor: ORANGE, pointBorderWidth: 0, order: 1, clip: 6 },
      { data: p.up, pointStyle: 'circle', pointRadius: 4.5, pointBackgroundColor: GREEN, pointBorderWidth: 0, order: 2, clip: 6 }
    ] },
    options: {
      layout: { padding: { top: padTop, right: padRight, left: 0, bottom: 0 } },
      scales: {
        x: linAxis({ horiz: true, min: p.xmin, max: p.xmax, ticks: p.xticks, fmt: p.xfmt, pad: 0, tl: 3, title: p.xTitle, titleSize: 13.5, size: p.xH }),
        y: linAxis({ min: p.ymin, max: p.ymax, ticks: p.yticks, fmt: p.yfmt, pad: 0, tl: 3, size: yW })
      },
      plugins: { frame: { show: true, color: '#7f7f7f' } }
    }
  });
  txt(p.name, 616, p.titleY, { size: 13.5, anchor: 'c' });
});

cPanels.forEach((p, i) => {
  const ins = p.inset, h = ins.B - ins.T;
  const c = mk('ci' + i, 541, ins.T - 3, 100, 3 + h + ins.xH);
  new Chart(c, {
    type: 'scatter',
    data: { datasets: [
      { data: [[0, 0], [0, h]], showLine: true, borderColor: '#333', borderWidth: 1, borderDash: [3, 2], pointRadius: 0, order: 3 },
      { data: [[upLo[i], ins.up], [upHi[i], ins.up]], showLine: true, borderColor: GREEN, borderWidth: 1.5, pointRadius: 0, order: 1, clip: false },
      { data: [[upEffect[i], ins.up]], pointRadius: 1.8, pointBackgroundColor: GREEN, pointBorderWidth: 0, order: 0, clip: false },
      { data: [[downLo[i], ins.down], [downHi[i], ins.down]], showLine: true, borderColor: ORANGE, borderWidth: 1.5, pointRadius: 0, order: 1, clip: false },
      { data: [[downEffect[i], ins.down]], pointRadius: 1.8, pointBackgroundColor: ORANGE, pointBorderWidth: 0, order: 0, clip: false }
    ] },
    options: {
      layout: { padding: { top: 3, right: 7, left: 10, bottom: 0 } },
      scales: {
        x: linAxis({ horiz: true, min: -11, max: 1, ticks: effectTicksC, fmt: minus, font: 7, color: '#1a1a1a', pad: -2, tl: 2.5, border: true, title: ins.title ? 'Standardized effects' : null, titleSize: 8.5, titleColor: '#1a1a1a', size: ins.xH }),
        y: { display: false, min: 0, max: h }
      }
    }
  });
});
txt('Up', 638, 76, { size: 12, italic: true, color: GREEN });
txt('Down', 638, 83, { size: 12, italic: true, color: ORANGE });
</script>
</body></html>
